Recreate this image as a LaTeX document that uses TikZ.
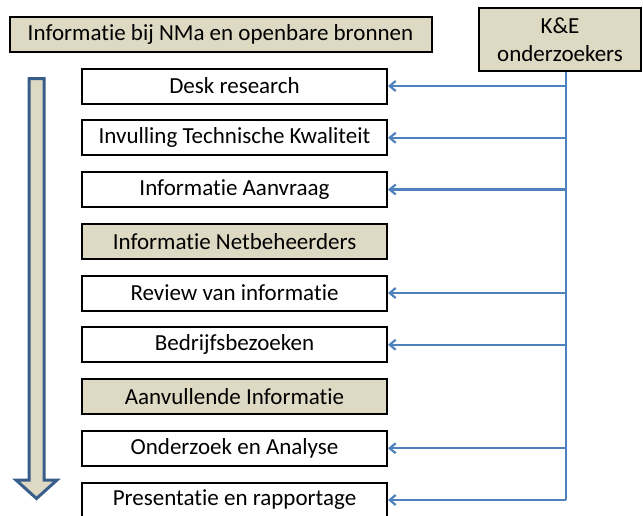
\documentclass[tikz,border=0pt]{standalone}
\usepackage{fontspec}
\setmainfont[Ligatures=NoCommon]{Carlito}
\usepackage{tikz}
\usetikzlibrary{shapes,arrows,arrows.meta}

\definecolor{beige}{HTML}{DDD9C3}
\definecolor{lijnblauw}{HTML}{4F81BD}
\definecolor{pijlrand}{HTML}{385D8A}

\begin{document}
\begin{tikzpicture}[x=1pt,y=-1pt]
	\useasboundingbox (0,0) rectangle (643,515);
	\draw[pijlrand, fill=beige, line width=3pt, line join=miter]
		(29,78.5) -- (44,78.5) -- (44,480) -- (57,480) -- (36.5,498.5) -- (16,480) -- (29,480) -- cycle;
	\begin{scope}
		[
			every node/.style={draw=black, line width=2pt, minimum width=305pt, minimum height=35pt, inner sep=0pt, font=\fontsize{23}{28}\selectfont},
			bron/.style={fill=beige}
		]
		
		\node(nma)[bron, minimum width=422pt] at (220.5,34) {Informatie bij NMa en openbare bronnen};
		\node(ke)[bron, minimum width=162pt, minimum height=63pt, align=center] at (560,39.5) {K\&E\\onderzoekers};
		
		\node(desk) at (234.5,86) {Desk research};
		\node(invul) at (234.5,137.75) {Invulling Technische Kwaliteit};
		\node(aanvraag) at (234.5,189.5) {Informatie Aanvraag};
		\node(netbeh)[bron] at (234.5,241.25) {Informatie Netbeheerders};
		\node(review) at (234.5,293) {Review van informatie};
		\node(bezoek) at (234.5,344.75) {Bedrijfsbezoeken};
		\node(aanvul)[bron] at (234.5,396.5) {Aanvullende Informatie};
		\node(analyse) at (234.5,448.25) {Onderzoek en Analyse};
		\node(rapport) at (234.5,500) {Presentatie en rapportage};
	\end{scope}
	\begin{scope}
		[>={Straight Barb[length=6pt,width=10pt]},
			every edge/.style={draw=lijnblauw, line width=2.2pt},
		]
		\coordinate (bus) at ([xshift=6pt]ke.south);
		\draw[lijnblauw, line width=2.2pt] (bus) -- (bus |- rapport.east);
		\path
		(bus |- desk.east) edge[->] (desk.east)
		(bus |- invul.east) edge[->] (invul.east)
		(bus |- aanvraag.east) edge[->] (aanvraag.east)
		(bus |- review.east) edge[->] (review.east)
		(bus |- bezoek.east) edge[->] (bezoek.east)
		(bus |- analyse.east) edge[->] (analyse.east)
		(bus |- rapport.east) edge[->] (rapport.east);
	\end{scope}
\end{tikzpicture}
\end{document}
